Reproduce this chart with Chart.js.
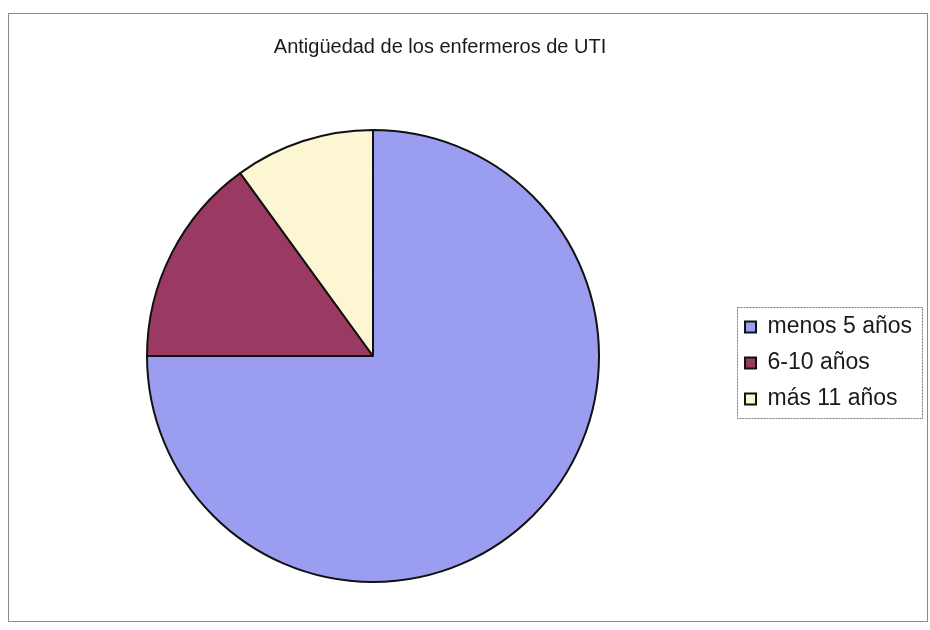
<!DOCTYPE html>
<html>
<head>
<meta charset="utf-8">
<script src="https://cdn.jsdelivr.net/npm/chart.js@4"></script>
<style>
  html, body { margin: 0; padding: 0; background: #fff; }
  #wrap { width: 930px; height: 630px; }
</style>
</head>
<body>
<div id="wrap"><canvas id="myChart" width="930" height="630"></canvas></div>
<script>
"use strict";

// data ----------------
const titleText = "Antigüedad de los enfermeros de UTI";
const categories = ["menos 5 años", "6-10 años", "más 11 años"];
const values = [15, 3, 2];
const sliceColors = ["#9b9ef0", "#9a3a63", "#fcf6d2"];

// frame round the whole chart + dotted box round the legend
const framePlugin = {
  id: "frame",
  beforeDraw(chart) {
    const c = chart.ctx;
    c.save();
    c.fillStyle = "#fff";
    c.fillRect(0, 0, chart.width, chart.height);
    c.strokeStyle = "#8a8a8a";
    c.lineWidth = 1;
    c.strokeRect(8.5, 13.5, 919, 608);
    c.restore();
  },
  afterLayout(chart) {
    // title sits a bit left of the page centre
    chart.titleBlock.left = 0;
    chart.titleBlock.right = 880;
    // legend sits a little below the pie centre
    chart.legend.top += 7;
    chart.legend.bottom += 7;
  },
  afterDraw(chart) {
    const boxes = chart.legend.legendHitBoxes;
    if (!boxes || !boxes.length) return;
    let l = Infinity, t = Infinity, r = -Infinity, b = -Infinity;
    boxes.forEach((h) => {
      l = Math.min(l, h.left);
      t = Math.min(t, h.top);
      r = Math.max(r, h.left + h.width);
      b = Math.max(b, h.top + h.height);
    });
    const c = chart.ctx;
    c.save();
    c.strokeStyle = "#777";
    c.lineWidth = 1;
    c.setLineDash([2, 1]);
    c.strokeRect(Math.round(l - 8) + 0.5, Math.round(t - 9) + 0.5, Math.round(r - l + 18), Math.round(b - t + 16));
    c.restore();
  },
};

const ctx = document.getElementById("myChart").getContext("2d");
const myChart = new Chart(ctx, {
  type: "pie",
  data: {
    labels: categories,
    datasets: [
      {
        data: values,
        backgroundColor: sliceColors,
        borderColor: "#111",
        borderWidth: 2,
      },
    ],
  },
  options: {
    responsive: false,
    animation: false,
    devicePixelRatio: 1,
    layout: {
      padding: { top: 0, left: 14, right: 8, bottom: 47 },
    },
    plugins: {
      title: {
        display: true,
        text: titleText,
        color: "#1a1a1a",
        font: { family: "'Liberation Sans', Arial, sans-serif", size: 20, weight: "normal" },
        padding: { top: 35, bottom: 70 },
      },
      legend: {
        position: "right",
        align: "center",
        fullSize: false,
        labels: {
          color: "#1a1a1a",
          boxWidth: 11,
          boxHeight: 11,
          padding: 13,
          font: { family: "'Liberation Sans', Arial, sans-serif", size: 23 },
        },
      },
      tooltip: { enabled: false },
    },
  },
  plugins: [framePlugin],
});
</script>
</body>
</html>
